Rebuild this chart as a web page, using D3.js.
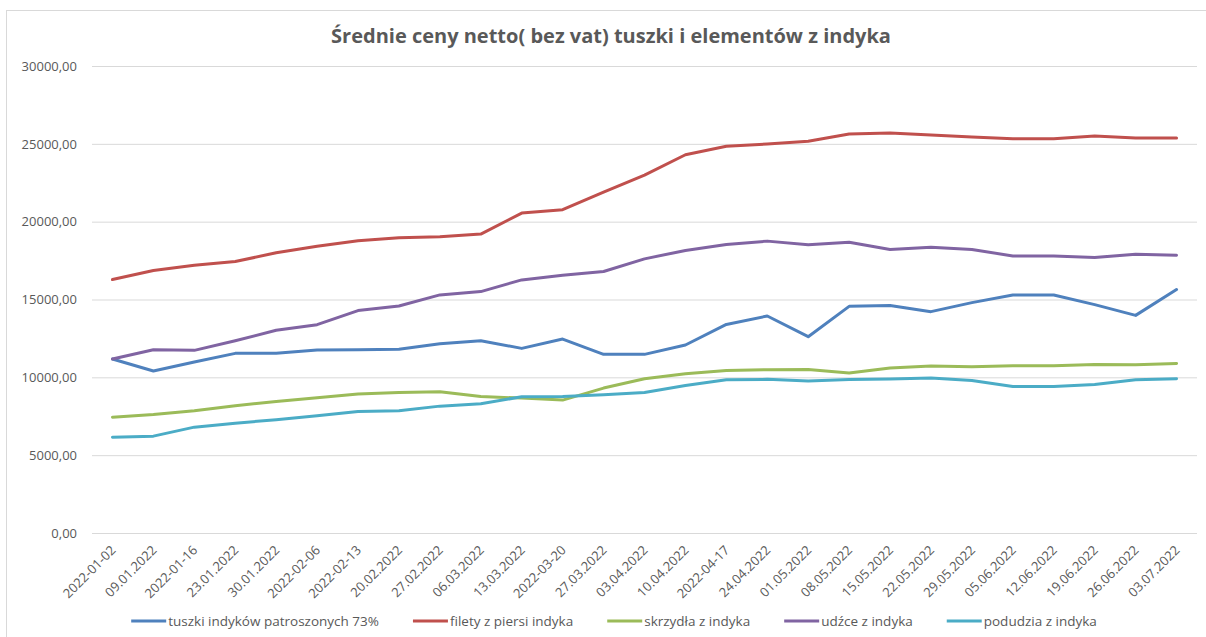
<!DOCTYPE html>
<html lang="pl">
<head>
<meta charset="utf-8" />
<title>Średnie ceny netto</title>
<script src="https://d3js.org/d3.v7.min.js"></script>
<style>
  body { margin: 0; background: #fff; }
  text { font-family: "Open Sans", "DejaVu Sans", sans-serif; fill: #595959; }
</style>
</head>
<body>
<div id="chart"></div>
<script>
// categories (x axis, as written in the source sheet)
const weeks = ["2022-01-02", "09.01.2022", "2022-01-16", "23.01.2022", "30.01.2022", "2022-02-06",
  "2022-02-13", "20.02.2022", "27.02.2022", "06.03.2022", "13.03.2022", "2022-03-20", "27.03.2022",
  "03.04.2022", "10.04.2022", "2022-04-17", "24.04.2022", "01.05.2022", "08.05.2022", "15.05.2022",
  "22.05.2022", "29.05.2022", "05.06.2022", "12.06.2022", "19.06.2022", "26.06.2022", "03.07.2022"];

// series values
const tuszki = [11176, 10404, 10983, 11540, 11540, 11755, 11776, 11798, 12162, 12355, 11860, 12460, 11475,
  11475, 12077, 13400, 13940, 12610, 14560, 14610, 14220, 14800, 15290, 15290, 14670, 13980, 15640];
const filety = [16281, 16860, 17200, 17440, 18000, 18425, 18770, 18960, 19030, 19200, 20550, 20770, 21900,
  22990, 24300, 24840, 24990, 25160, 25630, 25700, 25570, 25440, 25330, 25330, 25500, 25370, 25370];
const skrzydla = [7443, 7615, 7851, 8172, 8450, 8687, 8924, 9030, 9073, 8771, 8665, 8536, 9310,
  9910, 10230, 10443, 10490, 10510, 10275, 10600, 10725, 10680, 10745, 10745, 10830, 10810, 10895];
const udzce = [11176, 11776, 11732, 12355, 13020, 13385, 14286, 14586, 15294, 15508, 16260, 16560, 16800,
  17610, 18150, 18530, 18750, 18510, 18680, 18210, 18360, 18210, 17800, 17800, 17700, 17910, 17845];
const podudzia = [6157, 6222, 6800, 7057, 7272, 7529, 7806, 7851, 8150, 8300, 8750, 8770, 8880,
  9030, 9480, 9845, 9870, 9760, 9865, 9890, 9955, 9800, 9415, 9415, 9545, 9845, 9910];

const seriesNames = ["tuszki indyków patroszonych 73%", "filety z piersi indyka", "skrzydła z indyka",
  "udźce z indyka", "podudzia z indyka"];
const seriesColors = ["#4f81bd", "#c0504d", "#9bbb59", "#8064a2", "#4bacc6"];
const yTicks = [0, 5000, 10000, 15000, 20000, 25000, 30000];
const titleText = "Średnie ceny netto( bez vat) tuszki i elementów z indyka";

const series = [tuszki, filety, skrzydla, udzce, podudzia].map((vals, i) => ({
  name: seriesNames[i], color: seriesColors[i], values: vals
}));

const W = 1206, H = 637;
const plot = { left: 92, right: 1197, top: 66, bottom: 533 };

const svg = d3.select("#chart").append("svg")
  .attr("width", W).attr("height", H);

// chart area border (only top and left are visible in the crop)
svg.append("rect")
  .attr("x", 6.5).attr("y", 10.5)
  .attr("width", W + 10).attr("height", H + 10)
  .attr("fill", "#fff").attr("stroke", "#d9d9d9");

svg.append("text")
  .attr("x", 611).attr("y", 43)
  .attr("text-anchor", "middle")
  .style("font-size", "20px").style("font-weight", "bold")
  .text(titleText);

const x = d3.scaleBand().domain(weeks).range([plot.left, plot.right]);
const y = d3.scaleLinear().domain([0, 30000]).range([plot.bottom, plot.top]);
const cx = d => x(d) + x.bandwidth() / 2;

const fmt = v => d3.format(".2f")(v).replace(".", ",");

// y axis with gridlines
const yAxis = svg.append("g")
  .attr("transform", `translate(${plot.left},0)`)
  .call(d3.axisLeft(y).tickValues(yTicks).tickFormat(fmt)
    .tickSize(-(plot.right - plot.left)).tickPadding(15));
yAxis.select(".domain").remove();
yAxis.selectAll(".tick line").attr("stroke", "#d9d9d9");
yAxis.selectAll(".tick text").style("font-size", "13px").attr("fill", "#595959");

// x axis labels, rotated
const xAxis = svg.append("g")
  .attr("transform", `translate(0,${plot.bottom})`)
  .call(d3.axisBottom(x).tickSize(0).tickPadding(0));
xAxis.select(".domain").remove();
xAxis.selectAll(".tick text")
  .attr("text-anchor", "end")
  .attr("fill", "#595959")
  .style("font-size", "13px")
  .attr("dy", 0)
  .attr("transform", "translate(4,18) rotate(-45)");

const line = d3.line()
  .x((d, i) => cx(weeks[i]))
  .y(d => y(d));

svg.append("g").selectAll("path")
  .data(series)
  .join("path")
  .attr("d", s => line(s.values))
  .attr("fill", "none")
  .attr("stroke", s => s.color)
  .attr("stroke-width", 3)
  .attr("stroke-linejoin", "round")
  .attr("stroke-linecap", "round");

// legend, laid out from measured text widths and centred
const lg = svg.append("g");
const items = lg.selectAll("g").data(series).join("g");
items.append("line")
  .attr("x1", 0).attr("x2", 35).attr("y1", 0).attr("y2", 0)
  .attr("stroke", s => s.color).attr("stroke-width", 3);
items.append("text")
  .attr("x", 37).attr("dy", "0.35em")
  .style("font-size", "13.5px")
  .text(s => s.name);
let pos = 0;
items.each(function () {
  const g = d3.select(this);
  g.attr("transform", `translate(${pos},0)`);
  pos += 37 + g.select("text").node().getComputedTextLength() + 34;
});
pos -= 34;
lg.attr("transform", `translate(${614 - pos / 2},621)`);
</script>
</body>
</html>
